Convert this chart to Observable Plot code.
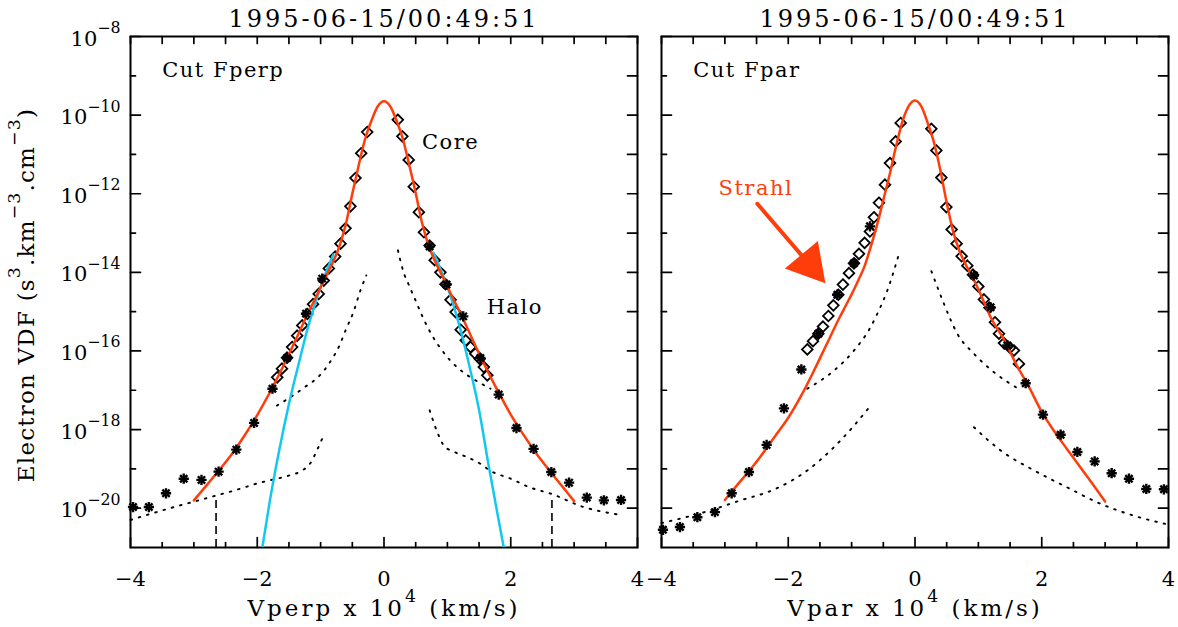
<!DOCTYPE html>
<html>
<head>
<meta charset="utf-8">
<script src="https://cdn.jsdelivr.net/npm/d3@7"></script>
<script src="https://cdn.jsdelivr.net/npm/@observablehq/plot@0.6"></script>
<style>
  html, body { margin: 0; padding: 0; background: #ffffff; }
  #wrap { position: relative; width: 1178px; height: 627px; overflow: hidden; background: #ffffff; }
  #wrap svg { position: absolute; top: 0; overflow: visible; }
</style>
</head>
<body>
<div id="wrap"></div>
<script>
// ---------------- text ----------------
const timeLabel = "1995-06-15/00:49:51";
const yLabel = "Electron VDF (s^3.km^−3.cm^−3)";
const perpXLabel = "Vperp x 10^4 (km/s)";
const parXLabel = "Vpar x 10^4 (km/s)";

// ---------------- ticks ----------------
const xMajor = [-4, -2, 0, 2, 4];
const xMinor = [-3.5, -3, -2.5, -1.5, -1, -0.5, 0.5, 1, 1.5, 2.5, 3, 3.5];
const yMajorExp = [-20, -18, -16, -14, -12, -10, -8];
const yMinorExp = [-19, -17, -15, -13, -11, -9];

// ---------------- data: [velocity (1e4 km/s), log10 VDF] ----------------
// Cut Fperp
const perpDiamonds = [
  [-1.685,-16.67],[-1.61,-16.45],[-1.53,-16.17],[-1.45,-15.90],[-1.37,-15.61],[-1.29,-15.35],
  [-1.21,-15.06],[-1.12,-14.81],[-1.03,-14.55],[-0.95,-14.21],[-0.87,-13.90],[-0.77,-13.60],
  [-0.686,-13.27],[-0.607,-12.88],[-0.53,-12.32],[-0.45,-11.60],[-0.36,-10.97],[-0.265,-10.43],
  [0.218,-10.12],[0.29,-10.54],[0.39,-11.14],[0.47,-11.82],[0.55,-12.47],[0.63,-12.98],
  [0.72,-13.32],[0.80,-13.69],[0.89,-14.00],[0.97,-14.30],[1.05,-14.70],[1.13,-15.01],
  [1.21,-15.46],[1.29,-15.73],[1.365,-15.90],[1.44,-16.07],[1.51,-16.20],[1.575,-16.41],[1.63,-16.62]
];
const perpStars = [
  [-3.96,-19.97],[-3.71,-19.97],[-3.44,-19.62],[-3.16,-19.25],[-2.88,-19.28],[-2.61,-19.07],
  [-2.33,-18.51],[-2.05,-17.83],[-1.76,-16.96],[-1.53,-16.18],[-1.23,-15.05],[-0.975,-14.16],
  [0.72,-13.34],[0.986,-14.31],[1.25,-15.12],[1.52,-16.18],[1.81,-17.11],[2.09,-17.96],
  [2.36,-18.49],[2.64,-19.08],[2.92,-19.35],[3.20,-19.73],[3.47,-19.80],[3.74,-19.79]
];
const perpFit = [
  [-3.0,-19.80],[-2.8,-19.42],[-2.6,-19.03],[-2.4,-18.62],[-2.2,-18.15],[-2.0,-17.63],[-1.8,-17.05],
  [-1.6,-16.42],[-1.4,-15.74],[-1.2,-15.04],[-1.1,-14.72],[-1.0,-14.38],[-0.9,-14.05],[-0.8,-13.72],
  [-0.7,-13.32],[-0.6,-12.76],[-0.5,-12.00],[-0.4,-11.28],[-0.3,-10.62],[-0.2,-10.15],[-0.1,-9.78],
  [0,-9.65],[0.1,-9.78],[0.2,-10.15],[0.3,-10.62],[0.4,-11.28],[0.5,-11.98],[0.6,-12.74],
  [0.7,-13.30],[0.8,-13.70],[0.9,-14.03],[1.0,-14.36],[1.1,-14.70],[1.2,-15.02],[1.4,-15.72],
  [1.6,-16.40],[1.8,-17.03],[2.0,-17.62],[2.2,-18.13],[2.4,-18.60],[2.6,-19.02],[2.8,-19.42],[3.0,-19.82]
];
const perpCoreLeft = [
  [-1.92,-21.0],[-1.8,-19.80],[-1.65,-18.50],[-1.5,-17.35],[-1.35,-16.35],[-1.2,-15.40],
  [-1.05,-14.62],[-0.92,-14.02],[-0.8,-13.55]
];
const perpCoreRight = [
  [0.78,-13.50],[0.9,-13.95],[1.05,-14.60],[1.2,-15.42],[1.35,-16.40],[1.5,-17.50],
  [1.65,-18.90],[1.78,-20.05],[1.89,-21.0]
];
const perpDottedUpperLeft = [
  [-1.69,-17.39],[-1.5,-17.20],[-1.25,-16.92],[-1.0,-16.60],[-0.85,-16.28],[-0.7,-15.85],
  [-0.6,-15.45],[-0.48,-15.00],[-0.37,-14.45],[-0.28,-14.08]
];
const perpDottedUpperRight = [
  [0.22,-13.44],[0.3,-13.95],[0.4,-14.35],[0.5,-14.72],[0.6,-15.10],[0.75,-15.58],
  [0.9,-15.95],[1.05,-16.25],[1.3,-16.60],[1.5,-16.80],[1.68,-16.96]
];
const perpDottedLowerLeft = [
  [-4.0,-20.30],[-3.42,-20.02],[-2.9,-19.79],[-2.3,-19.52],[-2.0,-19.37],[-1.8,-19.29],
  [-1.5,-19.17],[-1.3,-19.05],[-1.16,-18.85],[-1.05,-18.50],[-0.975,-18.23]
];
const perpDottedLowerRight = [
  [0.72,-17.51],[0.85,-18.10],[0.95,-18.42],[1.1,-18.56],[1.31,-18.70],[1.5,-18.85],
  [1.68,-19.05],[2.0,-19.25],[2.3,-19.47],[2.63,-19.63],[3.15,-19.97],[3.73,-20.17]
];
const perpCutoffV = [-2.65, 2.65];
const perpCutoffTopLog = -19.78;

// Cut Fpar
const parDiamonds = [
  [-1.699,-15.96],[-1.61,-15.75],[-1.525,-15.56],[-1.452,-15.38],[-1.367,-15.11],[-1.288,-14.84],
  [-1.21,-14.57],[-1.137,-14.31],[-1.042,-14.02],[-0.963,-13.77],[-0.884,-13.53],[-0.795,-13.25],
  [-0.711,-12.96],[-0.648,-12.60],[-0.569,-12.23],[-0.474,-11.77],[-0.395,-11.22],[-0.305,-10.67],[-0.226,-10.20],
  [0.258,-10.35],[0.337,-10.90],[0.416,-11.59],[0.495,-12.34],[0.578,-12.91],[0.657,-13.27],
  [0.736,-13.59],[0.826,-13.83],[0.915,-14.06],[1.0,-14.36],[1.088,-14.69],[1.175,-14.90],
  [1.262,-15.27],[1.325,-15.56],[1.404,-15.80],[1.50,-15.92],[1.561,-15.99],[1.64,-16.33]
];
const parStars = [
  [-3.977,-20.55],[-3.709,-20.48],[-3.434,-20.23],[-3.157,-20.10],[-2.893,-19.62],[-2.62,-19.08],
  [-2.341,-18.39],[-2.068,-17.46],[-1.793,-16.47],[-1.525,-15.56],[-1.225,-14.57],[-0.963,-13.77],[-0.711,-12.83],
  [0.93,-14.08],[1.193,-14.89],[1.457,-15.86],[1.746,-16.82],[2.019,-17.62],[2.298,-18.13],
  [2.562,-18.57],[2.835,-18.81],[3.103,-19.11],[3.376,-19.25],[3.65,-19.51],[3.928,-19.52]
];
const parFit = [
  [-3.0,-19.79],[-2.8,-19.40],[-2.6,-19.02],[-2.4,-18.60],[-2.2,-18.15],[-2.0,-17.70],[-1.8,-17.15],
  [-1.6,-16.52],[-1.4,-15.85],[-1.2,-15.18],[-1.1,-14.87],[-1.0,-14.56],[-0.9,-14.22],[-0.8,-13.86],
  [-0.7,-13.36],[-0.6,-12.80],[-0.5,-12.16],[-0.4,-11.51],[-0.3,-10.80],[-0.2,-10.17],[-0.1,-9.77],
  [0,-9.63],[0.1,-9.78],[0.2,-10.20],[0.3,-10.70],[0.4,-11.40],[0.5,-12.23],[0.6,-12.95],
  [0.7,-13.45],[0.8,-13.80],[0.9,-14.10],[1.0,-14.43],[1.1,-14.80],[1.2,-15.16],[1.4,-15.70],
  [1.6,-16.35],[1.8,-16.92],[2.0,-17.55],[2.2,-18.05],[2.4,-18.50],[2.6,-18.94],[2.8,-19.38],[3.0,-19.83]
];
const parDottedUpperLeft = [
  [-1.70,-16.96],[-1.28,-16.50],[-0.963,-15.99],[-0.70,-15.39],[-0.594,-15.05],[-0.436,-14.46],[-0.253,-13.53]
];
const parDottedLowerLeft = [
  [-4.0,-20.38],[-3.28,-20.08],[-2.75,-19.80],[-2.23,-19.53],[-1.70,-19.04],[-1.28,-18.45],[-0.963,-17.90],[-0.711,-17.41]
];
const parDottedUpperRight = [
  [0.258,-13.97],[0.457,-14.80],[0.56,-15.20],[0.668,-15.56],[0.93,-16.07],[1.245,-16.54],[1.61,-16.94]
];
const parDottedLowerRight = [
  [0.93,-17.94],[1.35,-18.53],[1.88,-19.04],[2.40,-19.47],[2.93,-19.89],[3.45,-20.19],[3.95,-20.40]
];

// annotations (data coordinates)
const perpNotes = [
  {text: "Cut Fperp", v: -3.50, lg: -9.04},
  {text: "Core", v: 0.60, lg: -10.85},
  {text: "Halo", v: 1.62, lg: -15.05}
];
const parNotes = [{text: "Cut Fpar", v: -3.50, lg: -9.04}];
const strahlNote = [{text: "Strahl", v: -3.10, lg: -12.03}];
const strahlArrow = [[-2.488, -12.256], [-1.667, -13.795]];

// ---------------- helpers ----------------
const RED = "#ff3d0a";
const CYAN = "#12c8f0";
const FONT = "'DejaVu Serif', 'Liberation Serif', serif";
const toPts = arr => arr.map(([v, lg]) => ({v, f: 10 ** lg}));
const neg = n => (n < 0 ? "\u2212" + (-n) : String(n));
const tickShape = {draw(ctx, l) { ctx.moveTo(0, 0); ctx.lineTo(0, -l); }};
const tk = {anchor: "start", shape: tickShape, r: 0, stroke: "black", strokeWidth: 1.7};

function tickMarks() {
  const yMaj = yMajorExp.map(e => 10 ** e);
  const yMin = yMinorExp.map(e => 10 ** e);
  return [
    Plot.vectorX(xMajor, {...tk, frameAnchor: "bottom", length: 10, rotate: 0}),
    Plot.vectorX(xMinor, {...tk, frameAnchor: "bottom", length: 5, rotate: 0}),
    Plot.vectorX(xMajor.concat(xMinor), {...tk, frameAnchor: "top", length: 7, rotate: 180}),
    Plot.vectorY(yMaj, {...tk, frameAnchor: "left", length: 10, rotate: 90}),
    Plot.vectorY(yMin, {...tk, frameAnchor: "left", length: 5, rotate: 90}),
    Plot.vectorY(yMaj.concat(yMin), {...tk, frameAnchor: "right", length: 10, rotate: -90})
  ];
}
const dotted = arr => Plot.line(toPts(arr), {x: "v", y: "f", stroke: "black", strokeWidth: 1.9,
  strokeDasharray: "1.6,7", curve: "monotone-x"});
const diamonds = arr => Plot.dot(toPts(arr), {x: "v", y: "f", symbol: "diamond2", r: 4.8,
  stroke: "black", strokeWidth: 1.8, fill: "none"});
const stars = arr => [
  Plot.dot(toPts(arr), {x: "v", y: "f", symbol: "plus", r: 3.4, stroke: "black", strokeWidth: 2.4}),
  Plot.dot(toPts(arr), {x: "v", y: "f", symbol: "times", r: 3.4, stroke: "black", strokeWidth: 2.4})
];
const fit = arr => Plot.line(toPts(arr), {x: "v", y: "f", stroke: RED, strokeWidth: 2.5, curve: "monotone-x"});
const commonText = xlabel => [
  Plot.text(xMajor, {x: d => d, frameAnchor: "bottom", lineAnchor: "bottom", dy: 38, text: neg, fontSize: 21}),
  Plot.text([timeLabel], {frameAnchor: "top", textAnchor: "middle", lineAnchor: "bottom", dy: -10, fontSize: 24, ariaDescription: "title"}),
  Plot.text([xlabel], {frameAnchor: "bottom", textAnchor: "middle", lineAnchor: "bottom", dy: 68, fontSize: 23, ariaDescription: "xlabel"})
];
const notes = (arr, color) => Plot.text(arr, {x: "v", y: d => 10 ** d.lg, text: "text", textAnchor: "start",
  lineAnchor: "bottom", fontSize: 21, fill: color, ariaDescription: "note"});

function baseOptions(width, marginLeft, marginRight) {
  return {
    width, height: 627, marginTop: 36, marginBottom: 80, marginLeft, marginRight,
    x: {domain: [-4, 4], axis: null},
    y: {type: "log", domain: [1e-21, 1e-8], axis: null},
    style: {fontFamily: FONT, fontSize: "20px", color: "black", background: "transparent", overflow: "visible"}
  };
}

function finish(svg) {
  const s = d3.select(svg);
  s.selectAll('g[aria-description="title"] text').style("letter-spacing", "3px");
  s.selectAll('g[aria-description="xlabel"] text').style("letter-spacing", "3px");
  s.selectAll('g[aria-description="ylabel"] text').style("letter-spacing", "1.2px");
  s.selectAll('g[aria-description="note"] text').style("letter-spacing", "1.5px");
  s.selectAll("text").each(function () {
    const str = this.textContent;
    if (!str.includes("^")) return;
    const t = d3.select(this);
    t.text(null);
    const parts = str.split(/\^([\u22120-9]+)/);
    let raised = false;
    parts.forEach((p, i) => {
      if (i % 2 === 1) {
        t.append("tspan").attr("font-size", "0.75em").attr("dy", "-0.8em").text(p);
        raised = true;
      } else if (p) {
        const sp = t.append("tspan").text(p);
        if (raised) { sp.attr("dy", "0.6em"); raised = false; }
      }
    });
  });
  return svg;
}

// ---------------- left panel: Cut Fperp ----------------
const left = Plot.plot({
  ...baseOptions(640, 130, 3),
  marks: [
    Plot.frame({stroke: "black", strokeWidth: 2}),
    ...tickMarks(),
    dotted(perpDottedUpperLeft), dotted(perpDottedUpperRight),
    dotted(perpDottedLowerLeft), dotted(perpDottedLowerRight),
    Plot.ruleX(perpCutoffV, {y1: 1e-21, y2: 10 ** perpCutoffTopLog, stroke: "black", strokeWidth: 1.6, strokeDasharray: "8,5"}),
    diamonds(perpDiamonds),
    Plot.line(toPts(perpCoreLeft), {x: "v", y: "f", stroke: CYAN, strokeWidth: 2.5, curve: "monotone-x", clip: true}),
    Plot.line(toPts(perpCoreRight), {x: "v", y: "f", stroke: CYAN, strokeWidth: 2.5, curve: "monotone-x", clip: true}),
    fit(perpFit),
    ...stars(perpStars),
    notes(perpNotes, "black"),
    Plot.text(yMajorExp, {y: e => 10 ** e, frameAnchor: "left", textAnchor: "end", lineAnchor: "bottom",
      dx: -10, dy: 9, text: e => "10^" + neg(e), fontSize: 21}),
    Plot.text([yLabel], {frameAnchor: "left", textAnchor: "middle", lineAnchor: "middle", rotate: -90,
      dx: -104, dy: 3, fontSize: 23, ariaDescription: "ylabel"}),
    ...commonText(perpXLabel)
  ]
});

// ---------------- right panel: Cut Fpar ----------------
const right = Plot.plot({
  ...baseOptions(538, 21, 10),
  marks: [
    Plot.frame({stroke: "black", strokeWidth: 2}),
    ...tickMarks(),
    dotted(parDottedUpperLeft), dotted(parDottedUpperRight),
    dotted(parDottedLowerLeft), dotted(parDottedLowerRight),
    diamonds(parDiamonds),
    fit(parFit),
    ...stars(parStars),
    Plot.line(toPts(strahlArrow), {x: "v", y: "f", stroke: RED, strokeWidth: 4}),
    Plot.dot(toPts(strahlArrow.slice(1)), {x: "v", y: "f", symbol: "triangle", r: 16, fill: RED, stroke: "none", rotate: 140}),
    notes(parNotes, "black"),
    notes(strahlNote, RED),
    ...commonText(parXLabel)
  ]
});

const wrap = document.getElementById("wrap");
finish(left); finish(right);
left.style.left = "0px";
right.style.left = "640px";
wrap.appendChild(left);
wrap.appendChild(right);
</script>
</body>
</html>
